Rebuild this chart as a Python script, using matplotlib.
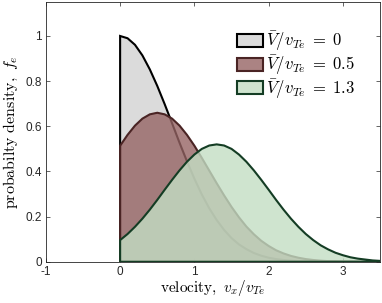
import numpy as np
import matplotlib
matplotlib.use("Agg")
import matplotlib.pyplot as plt
from matplotlib.patches import Patch
from matplotlib.colors import to_rgba

# velocity grid (v_x / v_Te) and values
velocity = [0.0, 0.1, 0.2, 0.3, 0.4, 0.5, 0.6, 0.7, 0.8, 0.9,
            1.0, 1.1, 1.2, 1.3, 1.4, 1.5, 1.6, 1.7, 1.8, 1.9,
            2.0, 2.1, 2.2, 2.3, 2.4, 2.5, 2.6, 2.7, 2.8, 2.9,
            3.0, 3.1, 3.2, 3.3, 3.4, 3.5]

f_v00 = [1.000, 0.990, 0.961, 0.914, 0.852, 0.779, 0.698, 0.613, 0.527, 0.445,
         0.368, 0.298, 0.237, 0.185, 0.141, 0.105, 0.077, 0.056, 0.039, 0.027,
         0.018, 0.012, 0.008, 0.005, 0.003, 0.002, 0.001, 0.001, 0.000, 0.000,
         0.000, 0.000, 0.000, 0.000, 0.000, 0.000]

f_v05 = [0.514, 0.562, 0.603, 0.634, 0.653, 0.660, 0.653, 0.634, 0.603, 0.562,
         0.514, 0.460, 0.404, 0.348, 0.294, 0.243, 0.197, 0.156, 0.122, 0.093,
         0.070, 0.051, 0.037, 0.026, 0.018, 0.012, 0.008, 0.005, 0.003, 0.002,
         0.001, 0.001, 0.000, 0.000, 0.000, 0.000]

f_v13 = [0.096, 0.123, 0.155, 0.191, 0.231, 0.274, 0.319, 0.363, 0.405, 0.443,
         0.475, 0.500, 0.515, 0.520, 0.515, 0.500, 0.475, 0.443, 0.405, 0.363,
         0.319, 0.274, 0.231, 0.191, 0.155, 0.123, 0.096, 0.073, 0.055, 0.040,
         0.029, 0.020, 0.014, 0.010, 0.006, 0.004]

labels = [r"$\bar{V}/v_{Te}\;=\;0$", r"$\bar{V}/v_{Te}\;=\;0.5$", r"$\bar{V}/v_{Te}\;=\;1.3$"]
face_colors = ["#d3d3d3", "#966464", "#c3dec4"]
edge_colors = ["#000000", "#4a2424", "#143d24"]

plt.rcParams["mathtext.fontset"] = "cm"
plt.rcParams["axes.unicode_minus"] = False
plt.rcParams["font.family"] = ["Liberation Sans", "DejaVu Sans"]

fig = plt.figure(figsize=(3.82, 3.03), dpi=100)
ax = fig.add_axes([0.120, 0.136, 0.875, 0.857])

handles = []
for i, f in enumerate([f_v00, f_v05, f_v13]):
    xs = [velocity[0]] + velocity + [velocity[-1]]
    ys = [0.0] + f + [0.0]
    fc = to_rgba(face_colors[i], 0.8)
    ax.fill(xs, ys, facecolor=fc, edgecolor=edge_colors[i],
            linewidth=1.5, zorder=2 + i)
    handles.append(Patch(facecolor=fc, edgecolor=edge_colors[i],
                         linewidth=1.5, label=labels[i]))

ax.set_xlim(-1, 3.5)
ax.set_ylim(0, 1.15)
ax.set_xticks([-1, 0, 1, 2, 3])
ax.set_xticklabels(["-1", "0", "1", "2", "3"])
ax.set_yticks([0, 0.2, 0.4, 0.6, 0.8, 1])
ax.set_yticklabels(["0", "0.2", "0.4", "0.6", "0.8", "1"])
ax.tick_params(direction="in", length=3, width=0.5, labelsize=8.5,
               top=True, right=True, colors="#262626", pad=3)
for s in ax.spines.values():
    s.set_linewidth(0.6)
    s.set_color("#262626")

ax.set_xlabel(r"$\mathrm{velocity,}\ v_x/v_{Te}$", fontsize=11, labelpad=0)
ax.set_ylabel(r"$\mathrm{probabilty\ density,}\ f_e$", fontsize=11.5, labelpad=4)

leg = ax.legend(handles=handles, loc="upper left", frameon=False, fontsize=12,
                bbox_to_anchor=(0.573, 0.895), handlelength=1.55, handleheight=0.82,
                handletextpad=0.15, labelspacing=0.01, borderaxespad=0.0,
                borderpad=0.0)

fig.savefig("out.png", dpi=100)
